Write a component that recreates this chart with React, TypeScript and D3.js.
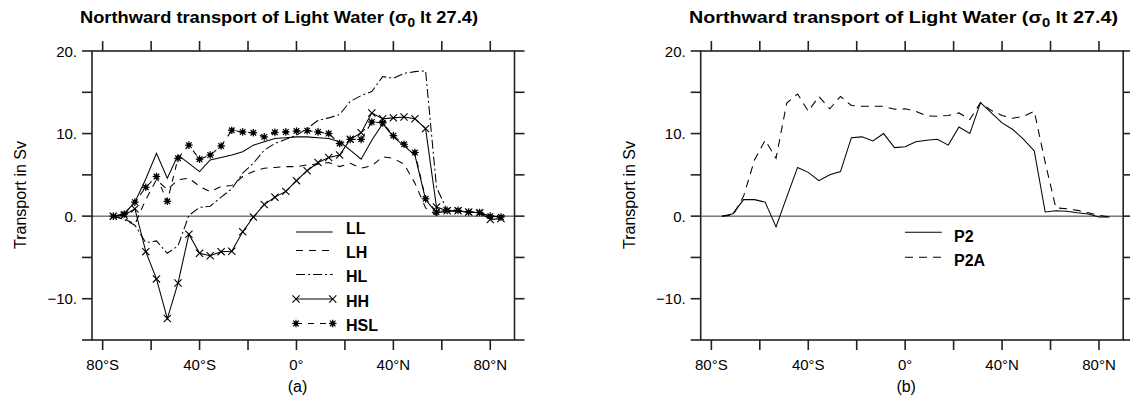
import React from 'react';
import * as d3 from 'd3';

// latitude grid of the model output (degrees, negative = south)
const LATS = [-75.6, -71.1, -66.7, -62.2, -57.8, -53.3, -48.9, -44.4, -40.0, -35.6, -31.1, -26.7, -22.2, -17.8, -13.3, -8.9, -4.4, 0, 4.4, 8.9, 13.3, 17.8, 22.2, 26.7, 31.1, 35.6, 40.0, 44.4, 48.9, 53.3, 57.8, 62.2, 66.7, 71.1, 75.6, 80.0, 84.4];

// panel (a)
const LL = [0, 0.3, 1.7, 4.5, 7.6, 4.6, 7.4, 6.4, 5.4, 6.8, 7.1, 7.4, 7.8, 8.6, 9.0, 9.4, 9.5, 9.6, 9.6, 9.5, 9.4, 9.0, 8.0, 6.9, 9.2, 11.2, 9.6, 8.5, 7.4, 2.0, 0.4, 0.6, 0.6, 0.5, 0.4, 0.0, -0.1];
const LH = [0, -0.3, -1.0, 2.0, 4.4, 3.2, 4.4, 4.6, 3.6, 2.95, 3.6, 3.7, 4.8, 5.4, 5.8, 5.9, 6.0, 6.0, 6.2, 6.3, 6.5, 6.0, 6.4, 5.8, 6.1, 7.2, 7.0, 6.3, 4.0, 1.0, 0.1, 0.6, 0.6, 0.5, 0.4, 0.0, -0.1];
const HL = [0, -0.4, -1.1, -3.2, -3.0, -4.5, -3.6, 0.1, 1.05, 1.2, 2.3, 3.3, 5.2, 6.4, 8.0, 8.8, 9.3, 9.8, 10.6, 11.6, 11.9, 12.3, 13.9, 14.6, 15.1, 16.9, 16.7, 17.3, 17.5, 17.6, 3.5, 0.7, 0.6, 0.5, 0.4, 0.0, -0.1];
const HH = [0, 0.1, 0.9, -4.3, -7.6, -12.4, -8.1, -2.2, -4.5, -4.8, -4.3, -4.25, -1.9, -0.1, 1.4, 2.3, 3.0, 4.3, 5.5, 6.5, 7.1, 7.4, 9.3, 10.1, 12.5, 11.8, 11.9, 12.0, 11.8, 10.6, 1.1, 0.65, 0.65, 0.5, 0.4, -0.4, -0.3];
const HSL = [0, 0.25, 1.7, 3.5, 4.8, 1.8, 7.0, 8.6, 6.9, 7.4, 8.5, 10.4, 10.2, 10.1, 9.6, 10.15, 10.2, 10.3, 10.35, 10.2, 10.0, 8.8, 9.3, 9.3, 11.4, 11.3, 9.75, 8.7, 7.7, 2.1, 0.5, 0.7, 0.7, 0.5, 0.45, 0.0, -0.1];

// panel (b)
const P2 = [0, 0.3, 2.0, 2.0, 1.7, -1.3, 2.3, 5.9, 5.3, 4.3, 5.0, 5.4, 9.5, 9.6, 9.1, 10.0, 8.3, 8.4, 9.0, 9.2, 9.3, 8.6, 10.8, 10.0, 13.75, 12.5, 11.3, 10.5, 9.3, 7.9, 0.5, 0.65, 0.6, 0.4, 0.25, -0.1, -0.1];
const P2A = [0, 0.1, 2.4, 6.8, 9.2, 7.0, 13.7, 14.8, 12.7, 14.5, 13.0, 14.5, 13.4, 13.3, 13.3, 13.3, 12.95, 13.0, 12.7, 12.15, 12.1, 12.2, 12.5, 11.7, 13.75, 12.8, 12.2, 11.85, 12.1, 12.7, 6.5, 1.0, 0.9, 0.7, 0.4, 0.1, -0.1];

const X_TICKS = [-80, -60, -40, -20, 0, 20, 40, 60, 80];
const X_TICK_LABELS = ['80°S', '', '40°S', '', '0°', '', '40°N', '', '80°N'];
const Y_TICKS = [-15, -10, -5, 0, 5, 10, 15, 20];
const Y_TICK_LABELS = ['', '\u221210.', '', '0.', '', '10.', '', '20.'];
const X_DOMAIN = [-84.4, 90];
const Y_DOMAIN = [-15, 20];
const Y_TITLE = 'Transport in Sv';
const TITLE_MAIN = 'Northward transport of Light Water (';
const TITLE_TAIL = ' lt 27.4)';

const FONT = '"Liberation Sans", Arial, Helvetica, sans-serif';
const INK = '#000';
const FRAME = '#222';

type Style = { dash?: string; marker?: 'cross' | 'star' };
type Series = { name: string; values: number[]; style: Style };

const SERIES_A: Series[] = [
  { name: 'LL', values: LL, style: {} },
  { name: 'LH', values: LH, style: { dash: '7,6' } },
  { name: 'HL', values: HL, style: { dash: '9,3,2,3' } },
  { name: 'HH', values: HH, style: { marker: 'cross' } },
  { name: 'HSL', values: HSL, style: { dash: '6,6', marker: 'star' } },
];
const SERIES_B: Series[] = [
  { name: 'P2', values: P2, style: {} },
  { name: 'P2A', values: P2A, style: { dash: '8,6' } },
];

function Cross({ x, y }: { x: number; y: number }) {
  const s = 3.6;
  return (
    <g stroke={INK} strokeWidth={1.1}>
      <line x1={x - s} y1={y - s} x2={x + s} y2={y + s} />
      <line x1={x - s} y1={y + s} x2={x + s} y2={y - s} />
    </g>
  );
}

function Star({ x, y }: { x: number; y: number }) {
  const s = 3.8;
  const d = 2.8;
  return (
    <g stroke={INK} strokeWidth={1.2}>
      <line x1={x - s} y1={y} x2={x + s} y2={y} />
      <line x1={x} y1={y - s} x2={x} y2={y + s} />
      <line x1={x - d} y1={y - d} x2={x + d} y2={y + d} />
      <line x1={x - d} y1={y + d} x2={x + d} y2={y - d} />
      <circle cx={x} cy={y} r={1.6} fill={INK} />
    </g>
  );
}

function Marker({ kind, x, y }: { kind?: string; x: number; y: number }) {
  if (kind === 'cross') return <Cross x={x} y={y} />;
  if (kind === 'star') return <Star x={x} y={y} />;
  return null;
}

type LegendSpec = { lineY: number; textY: number };

function Panel({
  x0, series, legend, legendX0, legendX1, legendTextX, label, titleX, titleLen,
}: {
  x0: number; series: Series[]; legend: LegendSpec[]; legendX0: number; legendX1: number;
  legendTextX: number; label: string; titleX: number; titleLen: number;
}) {
  const x1 = x0 + 422.5;
  const top = 51;
  const bottom = 340;
  const x = d3.scaleLinear().domain(X_DOMAIN).range([x0, x1]);
  const y = d3.scaleLinear().domain(Y_DOMAIN).range([bottom, top]);
  const line = d3.line<number>().x((_, i) => x(LATS[i])).y((v) => y(v));
  const tl = 10;

  return (
    <g fontFamily={FONT}>
      {/* title */}
      <text x={titleX} y={23} fontSize={16} fontWeight="bold" fill={INK} textLength={titleLen} lengthAdjust="spacingAndGlyphs">
        {TITLE_MAIN}
        <tspan>σ</tspan>
        <tspan dy={4} fontSize={12}>0</tspan>
        <tspan dy={-4}>{TITLE_TAIL}</tspan>
      </text>

      {/* zero line */}
      <line x1={x0} x2={x1} y1={y(0)} y2={y(0)} stroke="#333" strokeWidth={1} />

      {/* data */}
      {series.map((s) => (
        <g key={s.name}>
          <path d={line(s.values) || ''} fill="none" stroke={INK} strokeWidth={1.05} strokeDasharray={s.style.dash} />
          {s.style.marker && s.values.map((v, i) => (
            <Marker key={i} kind={s.style.marker} x={x(LATS[i])} y={y(v)} />
          ))}
        </g>
      ))}

      {/* frame */}
      <rect x={x0} y={top} width={x1 - x0} height={bottom - top} fill="none" stroke={FRAME} strokeWidth={1.6} />

      {/* x ticks */}
      {X_TICKS.map((t, i) => (
        <g key={'xt' + t}>
          <line x1={x(t)} x2={x(t)} y1={bottom} y2={bottom + tl} stroke={FRAME} strokeWidth={1.6} />
          <line x1={x(t)} x2={x(t)} y1={top} y2={top - tl} stroke={FRAME} strokeWidth={1.6} />
          {X_TICK_LABELS[i] && (
            <text x={x(t)} y={370} fontSize={15} textAnchor="middle" fill={INK}>{X_TICK_LABELS[i]}</text>
          )}
        </g>
      ))}

      {/* y ticks */}
      {Y_TICKS.map((t, i) => (
        <g key={'yt' + t}>
          <line x1={x0 - tl} x2={x0} y1={y(t)} y2={y(t)} stroke={FRAME} strokeWidth={1.6} />
          <line x1={x1} x2={x1 + tl} y1={y(t)} y2={y(t)} stroke={FRAME} strokeWidth={1.6} />
          {Y_TICK_LABELS[i] && (
            <text x={x0 - 15} y={y(t) + 5.5} fontSize={15} textAnchor="end" fill={INK}>{Y_TICK_LABELS[i]}</text>
          )}
        </g>
      ))}

      {/* y title */}
      <text transform={`translate(${x0 - 66},195) rotate(-90)`} fontSize={16} textAnchor="middle" fill={INK}>{Y_TITLE}</text>

      {/* panel label */}
      <text x={x(0) + 1} y={392} fontSize={16} textAnchor="middle" fill={INK}>{label}</text>

      {/* legend */}
      {series.map((s, i) => {
        const L = legend[i];
        return (
          <g key={'lg' + s.name}>
            <line x1={legendX0} x2={legendX1} y1={L.lineY} y2={L.lineY} stroke={INK} strokeWidth={1.05} strokeDasharray={s.style.dash} />
            {s.style.marker && <Marker kind={s.style.marker} x={legendX0} y={L.lineY} />}
            {s.style.marker && <Marker kind={s.style.marker} x={legendX1} y={L.lineY} />}
            <text x={legendTextX} y={L.textY} fontSize={16} fontWeight="bold" fill={INK}>{s.name}</text>
          </g>
        );
      })}
    </g>
  );
}

export default function App() {
  const legendA: LegendSpec[] = [
    { lineY: 232, textY: 233.5 },
    { lineY: 250.5, textY: 257.5 },
    { lineY: 274.5, textY: 282 },
    { lineY: 299, textY: 306.5 },
    { lineY: 323.5, textY: 331 },
  ];
  const legendB: LegendSpec[] = [
    { lineY: 232.3, textY: 241.5 },
    { lineY: 257.3, textY: 265.5 },
  ];
  return (
    <svg width={1130} height={401} style={{ position: 'absolute', left: 0, top: 0, background: '#fff' }}>
      <rect width={1130} height={401} fill="#fff" />
      <Panel x0={92} series={SERIES_A} legend={legendA} legendX0={296} legendX1={332.7} legendTextX={346}
        label="(a)" titleX={80} titleLen={398} />
      <Panel x0={700.7} series={SERIES_B} legend={legendB} legendX0={905} legendX1={941.7} legendTextX={954}
        label="(b)" titleX={689} titleLen={429} />
    </svg>
  );
}
